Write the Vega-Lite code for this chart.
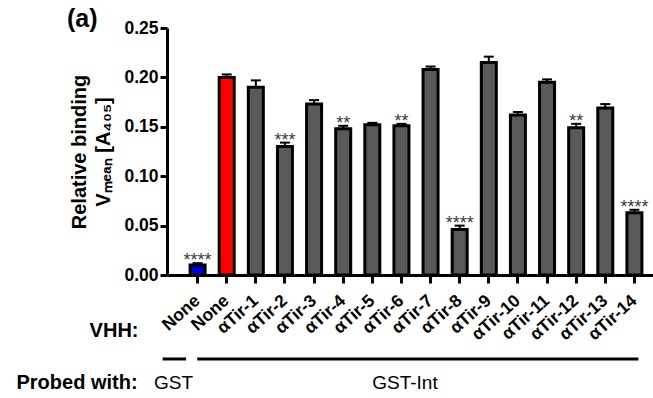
{
  "$schema": "https://vega.github.io/schema/vega-lite/v6.json",
  "autosize": {"type": "none"},
  "padding": {"left": 167, "top": 28, "right": 0, "bottom": 123},
  "width": 498,
  "height": 247,
  "background": "white",
  "config": {"font": "Liberation Sans", "view": {"stroke": null}},
  "title": {"text": "(a)", "anchor": "start", "frame": "group", "dx": -100, "dy": 33, "offset": 0, "baseline": "alphabetic", "fontSize": 25, "fontWeight": "bold", "color": "black"},
  "datasets": {
    "bars": [
      {"bar": "GST:None", "probe": "GST", "value": 0.010, "hi": 0.012, "sig": "****", "grp": "GST"},
      {"bar": "Int:None", "probe": "GST-Int", "value": 0.200, "hi": 0.203, "sig": "", "grp": "ctrl"},
      {"bar": "Int:αTir-1", "probe": "GST-Int", "value": 0.190, "hi": 0.197, "sig": "", "grp": "VHH"},
      {"bar": "Int:αTir-2", "probe": "GST-Int", "value": 0.130, "hi": 0.134, "sig": "***", "grp": "VHH"},
      {"bar": "Int:αTir-3", "probe": "GST-Int", "value": 0.173, "hi": 0.177, "sig": "", "grp": "VHH"},
      {"bar": "Int:αTir-4", "probe": "GST-Int", "value": 0.148, "hi": 0.151, "sig": "**", "grp": "VHH"},
      {"bar": "Int:αTir-5", "probe": "GST-Int", "value": 0.152, "hi": 0.154, "sig": "", "grp": "VHH"},
      {"bar": "Int:αTir-6", "probe": "GST-Int", "value": 0.151, "hi": 0.153, "sig": "**", "grp": "VHH"},
      {"bar": "Int:αTir-7", "probe": "GST-Int", "value": 0.208, "hi": 0.211, "sig": "", "grp": "VHH"},
      {"bar": "Int:αTir-8", "probe": "GST-Int", "value": 0.046, "hi": 0.050, "sig": "****", "grp": "VHH"},
      {"bar": "Int:αTir-9", "probe": "GST-Int", "value": 0.215, "hi": 0.221, "sig": "", "grp": "VHH"},
      {"bar": "Int:αTir-10", "probe": "GST-Int", "value": 0.162, "hi": 0.165, "sig": "", "grp": "VHH"},
      {"bar": "Int:αTir-11", "probe": "GST-Int", "value": 0.195, "hi": 0.198, "sig": "", "grp": "VHH"},
      {"bar": "Int:αTir-12", "probe": "GST-Int", "value": 0.149, "hi": 0.153, "sig": "**", "grp": "VHH"},
      {"bar": "Int:αTir-13", "probe": "GST-Int", "value": 0.169, "hi": 0.173, "sig": "", "grp": "VHH"},
      {"bar": "Int:αTir-14", "probe": "GST-Int", "value": 0.063, "hi": 0.066, "sig": "****", "grp": "VHH"}
    ],
    "probes": [
      {"probe": "GST", "first": "GST:None", "last": "GST:None"},
      {"probe": "GST-Int", "first": "Int:None", "last": "Int:αTir-14"}
    ]
  },
  "encoding": {
    "x": {
      "field": "bar", "type": "nominal",
      "scale": {
        "domain": ["GST:None", "Int:None", "Int:αTir-1", "Int:αTir-2", "Int:αTir-3", "Int:αTir-4", "Int:αTir-5", "Int:αTir-6", "Int:αTir-7", "Int:αTir-8", "Int:αTir-9", "Int:αTir-10", "Int:αTir-11", "Int:αTir-12", "Int:αTir-13", "Int:αTir-14"],
        "paddingInner": 0.485, "paddingOuter": 0.793
      },
      "axis": {
        "title": "VHH:", "titleAngle": 0, "titleX": -29, "titleY": 55, "titleAlign": "right", "titleBaseline": "middle",
        "titleFontSize": 20, "titleFontWeight": "bold", "titleColor": "black",
        "labelExpr": "split(datum.label, ':')[1]",
        "labelAngle": -42, "labelAlign": "right", "labelBaseline": "middle", "labelPadding": 15,
        "labelFontSize": 17.5, "labelFontWeight": "bold", "labelColor": "black",
        "domainColor": "black", "domainWidth": 3, "tickColor": "black", "tickWidth": 3, "tickSize": 8
      }
    }
  },
  "layer": [
    {
      "data": {"name": "bars"},
      "mark": {"type": "bar", "stroke": "black", "strokeWidth": 3},
      "encoding": {
        "y": {
          "field": "value", "type": "quantitative",
          "scale": {"domain": [0, 0.25], "nice": false},
          "axis": {
            "title": ["Relative binding", "Vₘₑₐₙ [A₄₀₅]"], "titleFontSize": 20, "titleFontWeight": "bold", "titleColor": "black",
            "titleLineHeight": 24, "titlePadding": 10,
            "values": [0, 0.05, 0.1, 0.15, 0.2, 0.25], "format": ".2f",
            "labelFontSize": 17.5, "labelFontWeight": "bold", "labelColor": "black", "labelPadding": 2,
            "grid": false, "domainColor": "black", "domainWidth": 3, "tickColor": "black", "tickWidth": 3, "tickSize": 7
          }
        },
        "fill": {
          "field": "grp", "type": "nominal", "legend": null,
          "scale": {"domain": ["GST", "ctrl", "VHH"], "range": ["#0000e6", "#ff0000", "#595959"]}
        }
      }
    },
    {
      "data": {"name": "bars"},
      "mark": {"type": "rule", "stroke": "black", "strokeWidth": 2},
      "encoding": {
        "y": {"field": "value", "type": "quantitative"},
        "y2": {"field": "hi"}
      }
    },
    {
      "data": {"name": "bars"},
      "mark": {"type": "tick", "color": "black", "size": 10, "thickness": 2, "opacity": 1},
      "encoding": {
        "y": {"field": "hi", "type": "quantitative"}
      }
    },
    {
      "data": {"name": "bars"},
      "mark": {"type": "text", "fontSize": 18, "color": "#3a3a3a", "baseline": "alphabetic", "align": "center", "dy": 3},
      "encoding": {
        "y": {"field": "hi", "type": "quantitative"},
        "text": {"field": "sig"}
      }
    },
    {
      "data": {"name": "probes"},
      "transform": [{"filter": "datum.probe == 'GST'"}],
      "mark": {"type": "rule", "stroke": "black", "strokeWidth": 3, "xOffset": -35, "x2Offset": -11.5},
      "encoding": {
        "x": {"field": "first", "type": "nominal"},
        "x2": {"field": "last"},
        "y": {"datum": -0.085}
      }
    },
    {
      "data": {"name": "probes"},
      "transform": [{"filter": "datum.probe == 'GST-Int'"}],
      "mark": {"type": "rule", "stroke": "black", "strokeWidth": 3, "xOffset": -29.5, "x2Offset": 4},
      "encoding": {
        "x": {"field": "first", "type": "nominal"},
        "x2": {"field": "last"},
        "y": {"datum": -0.085}
      }
    },
    {
      "data": {"name": "probes"},
      "transform": [{"filter": "datum.probe == 'GST'"}],
      "mark": {"type": "text", "fontSize": 19, "color": "black", "baseline": "middle", "align": "center", "xOffset": -24},
      "encoding": {
        "x": {"field": "first", "type": "nominal"},
        "y": {"datum": -0.109},
        "text": {"field": "probe"}
      }
    },
    {
      "data": {"name": "probes"},
      "transform": [{"filter": "datum.probe == 'GST-Int'"}],
      "mark": {"type": "text", "fontSize": 19, "color": "black", "baseline": "middle", "align": "center", "xOffset": 3.5},
      "encoding": {
        "x": {"datum": "Int:αTir-6"},
        "y": {"datum": -0.109},
        "text": {"field": "probe"}
      }
    },
    {
      "data": {"name": "probes"},
      "transform": [{"filter": "datum.probe == 'GST'"}],
      "mark": {"type": "text", "fontSize": 20, "fontWeight": "bold", "color": "black", "baseline": "middle", "align": "right", "xOffset": -60},
      "encoding": {
        "x": {"field": "first", "type": "nominal"},
        "y": {"datum": -0.109},
        "text": {"value": "Probed with:"}
      }
    }
  ]
}
